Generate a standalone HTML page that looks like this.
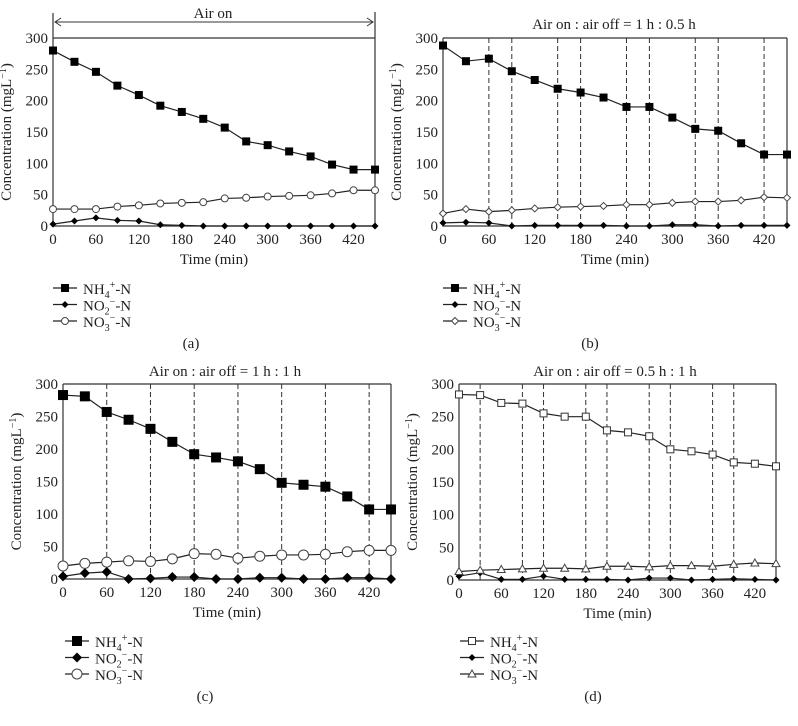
<!DOCTYPE html>
<html><head><meta charset="utf-8">
<style>
body{margin:0;background:#fff;}
svg{display:block;font-family:"Liberation Serif",serif;}
text{fill:#222;}
</style></head>
<body>
<svg id="fig" width="798" height="726" viewBox="0 0 798 726" xmlns="http://www.w3.org/2000/svg"></svg>
<script>
const times = [0,30,60,90,120,150,180,210,240,270,300,330,360,390,420,450];
const xTicks = [0,60,120,180,240,300,360,420];
const yTicks = [0,50,100,150,200,250,300];
const aNH4 = [280,262,246,224,209,192,182,171,157,135,129,119,111,98,90,90];
const aNO2 = [3,8,13,9,8,2,1,0,0,0,0,0,0,0,0,0];
const aNO3 = [27,27,27,31,33,36,37,38,44,45,47,48,49,52,57,57];
const bNH4 = [288,263,267,247,233,219,213,205,190,190,173,155,152,132,114,114];
const bNO2 = [5,6,5,0,1,1,1,1,0,0,2,2,0,1,1,1];
const bNO3 = [20,27,23,25,28,30,31,32,34,34,37,39,39,41,46,45];
const cNH4 = [283,281,257,245,231,211,192,187,181,169,148,145,142,127,107,107];
const cNO2 = [4,9,11,0,1,3,3,0,0,2,2,0,0,2,2,0];
const cNO3 = [20,24,26,28,27,31,39,38,32,35,37,37,38,42,44,44];
const dNH4 = [284,283,271,270,255,250,250,229,226,220,200,197,192,180,178,174];
const dNO2 = [6,11,1,1,6,1,1,1,0,3,3,0,1,2,1,0];
const dNO3 = [13,15,16,17,18,18,17,21,21,20,22,22,21,24,26,25];
const bDash = [60,90,150,180,240,270,330,360,420];
const cDash = [60,120,180,240,300,360,420];
const dDash = [30,90,120,180,210,270,300,360,390];

const NS="http://www.w3.org/2000/svg";
const svg=document.getElementById('fig');
function el(tag,attrs,parent,txt){const e=document.createElementNS(NS,tag);for(const k in attrs)e.setAttribute(k,attrs[k]);if(txt!==undefined)e.textContent=txt;(parent||svg).appendChild(e);return e;}

function marker(g,type,x,y,big){
  let m;
  if(type==='sq'){const s=big?10:8;m=el('rect',{x:x-s/2,y:y-s/2,width:s,height:s,fill:'#000'},g);}
  else if(type==='osq'){m=el('rect',{x:x-3.5,y:y-3.5,width:7,height:7,fill:'#fff',stroke:'#333','stroke-width':1},g);}
  else if(type==='dia'){const s=big?5:3.5;m=el('path',{d:`M${x} ${y-s}L${x+s} ${y}L${x} ${y+s}L${x-s} ${y}Z`,fill:'#000'},g);}
  else if(type==='odia'){m=el('path',{d:`M${x} ${y-3.5}L${x+3.5} ${y}L${x} ${y+3.5}L${x-3.5} ${y}Z`,fill:'#fff',stroke:'#444','stroke-width':1},g);}
  else if(type==='oc'){m=el('circle',{cx:x,cy:y,r:big?5:3.5,fill:'#fff',stroke:'#444','stroke-width':1},g);}
  else if(type==='tri'){m=el('path',{d:`M${x} ${y-4}L${x+4} ${y+3}L${x-4} ${y+3}Z`,fill:'#fff',stroke:'#444','stroke-width':1},g);}
  
  
}

function panel(cfg){
  const g=el('g',{});
  
  
  const X=v=>cfg.x0+(cfg.x1-cfg.x0)*v/450;
  const Y=v=>cfg.y0+(cfg.y300-cfg.y0)*v/300;
  const f=el('path',{d:`M${cfg.x0} ${cfg.topL}V${cfg.y0}H${cfg.x1}V${cfg.topR}M${cfg.x0} ${cfg.y300}H${cfg.x1}`,fill:'none',stroke:'#333','stroke-width':1.2},g);
  
  (cfg.dash||[]).forEach(t=>{const l=el('line',{x1:X(t),x2:X(t),y1:cfg.y300,y2:cfg.y0,stroke:'#333','stroke-width':1,'stroke-dasharray':'5,3'},g);
    });
  yTicks.forEach(v=>{const t=el('text',{x:cfg.x0-5,y:Y(v)+5,'text-anchor':'end','font-size':15},g,String(v));
    });
  xTicks.forEach(v=>{const t=el('text',{x:X(v),y:cfg.y0+18,'text-anchor':'middle','font-size':15},g,String(v));
    });
  const xl=el('text',{x:(cfg.x0+cfg.x1)/2,y:cfg.y0+38,'text-anchor':'middle','font-size':15},g,'Time (min)');
  
  const yx=cfg.x0-42, yc=(cfg.y0+cfg.y300)/2;
  const yl=el('text',{x:yx,y:yc,'text-anchor':'middle','font-size':15,transform:`rotate(-90 ${yx} ${yc})`},g);
  
  yl.innerHTML='Concentration (mgL<tspan dy="-5" font-size="10">−1</tspan><tspan dy="5">)</tspan>';
  if(cfg.title){const t=el('text',{x:cfg.tx,y:cfg.ty,'text-anchor':'middle','font-size':15},g,cfg.title);
    }
  cfg.series.forEach(s=>{
    const sg=el('g',{},g);
    
    const p=el('polyline',{points:times.map((t,i)=>X(t)+','+Y(s.vals[i])).join(' '),fill:'none',stroke:'#222','stroke-width':1.2},sg);
    
    times.forEach((t,i)=>marker(sg,s.m,X(t),Y(s.vals[i]),cfg.big));
  });
  const labels=[['NH','4','+'],['NO','2','−'],['NO','3','−']];
  cfg.series.forEach((s,i)=>{
    const ly=cfg.ly+i*16.5;
    const lg=el('g',{},g);
    
    el('line',{x1:cfg.lx,x2:cfg.lx+24,y1:ly,y2:ly,stroke:'#222','stroke-width':1.2},lg);
    marker(lg,s.m,cfg.lx+12,ly,cfg.big);
    const t=el('text',{x:cfg.lx+30,y:ly+6,'font-size':15},lg);
    const L=labels[i];
    t.innerHTML=`${L[0]}<tspan dy="4" font-size="10">${L[1]}</tspan><tspan dy="-10" font-size="10">${L[2]}</tspan><tspan dy="6">-N</tspan>`;
  });
  const c=el('text',{x:cfg.cx,y:cfg.cy,'text-anchor':'middle','font-size':15},g,'('+cfg.id+')');
  
  return {g,X,Y};
}

panel({id:'a',x0:53,x1:375,y0:226,y300:38,topL:13,topR:12,lx:53,ly:288,cx:191,cy:348,
  series:[{name:'nh4',vals:aNH4,m:'sq'},{name:'no2',vals:aNO2,m:'dia'},{name:'no3',vals:aNO3,m:'oc'}]});
const ag=el('g',{});
el('path',{d:'M55 22H373M61 18L55 22L61 26M367 18L373 22L367 26',fill:'none',stroke:'#333','stroke-width':1},ag);
const at=el('text',{x:213,y:18,'text-anchor':'middle','font-size':15},ag,'Air on');


panel({id:'b',x0:443,x1:787,y0:226,y300:38,topL:38,topR:38,lx:443,ly:288,cx:590,cy:348,dash:bDash,
  title:'Air on : air off = 1 h : 0.5 h',tx:614,ty:29,
  series:[{name:'nh4',vals:bNH4,m:'sq'},{name:'no2',vals:bNO2,m:'dia'},{name:'no3',vals:bNO3,m:'odia'}]});
panel({id:'c',x0:63,x1:391,y0:579,y300:384,topL:384,topR:384,lx:65,ly:641,cx:205,cy:701,dash:cDash,big:true,
  title:'Air on : air off = 1 h : 1 h',tx:225,ty:376,
  series:[{name:'nh4',vals:cNH4,m:'sq'},{name:'no2',vals:cNO2,m:'dia'},{name:'no3',vals:cNO3,m:'oc'}]});
panel({id:'d',x0:459,x1:776,y0:580,y300:384,topL:384,topR:384,lx:460,ly:641,cx:593,cy:701,dash:dDash,
  title:'Air on : air off = 0.5 h : 1 h',tx:615,ty:376,
  series:[{name:'nh4',vals:dNH4,m:'osq'},{name:'no2',vals:dNO2,m:'dia'},{name:'no3',vals:dNO3,m:'tri'}]});
</script>
</body></html>
